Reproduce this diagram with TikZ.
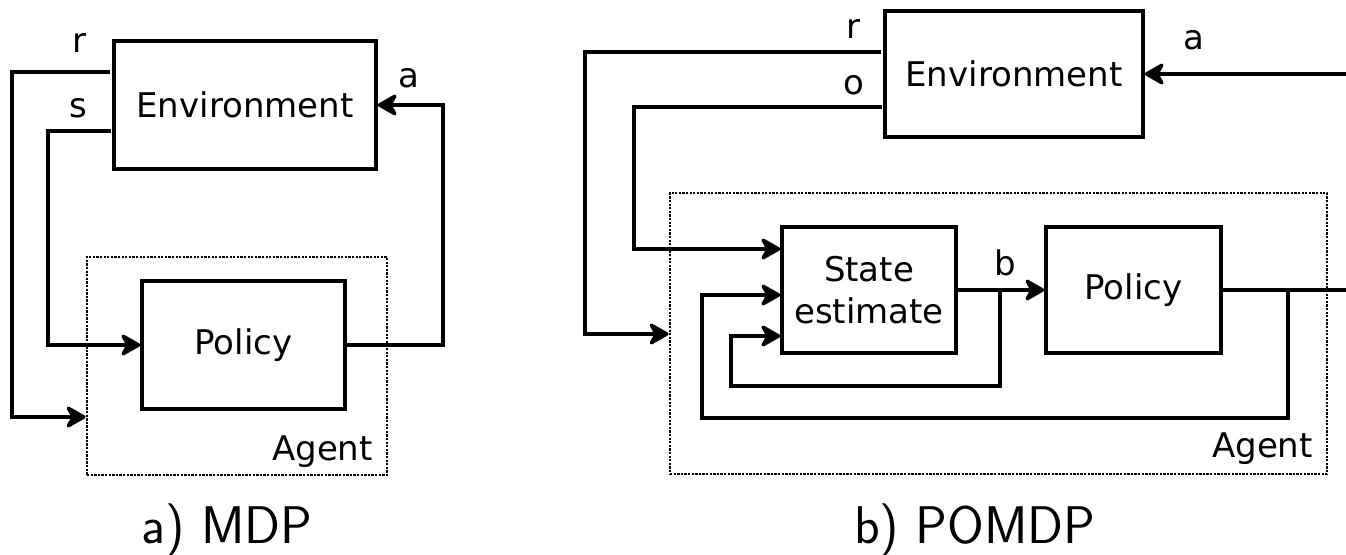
\documentclass[tikz,border=0pt]{standalone}
\usepackage{fontspec}
\newfontfamily\labelfont{DejaVu Sans}
\usetikzlibrary{arrows.meta}
\begin{document}
\begin{tikzpicture}[x=1pt,y=-1pt,
  >={Stealth[length=23pt,width=26pt,inset=7pt,round=false]},
  box/.style={draw, line width=3.4pt, rectangle, inner sep=0pt,
    font=\labelfont\fontsize{34}{42}\selectfont, align=center},
  agentbox/.style={draw, line width=2.9pt, dash pattern=on 2.3pt off 1.3pt,
    rectangle, inner sep=0pt},
  wire/.style={line width=3.4pt},
  flow/.style={wire, ->},
  lbl/.style={font=\labelfont\fontsize{34}{42}\selectfont, anchor=base, inner sep=0pt},
  caption/.style={font=\sffamily\fontsize{53}{60}\selectfont, anchor=base, inner sep=0pt}]
\useasboundingbox (0,0) rectangle (1346,554);

% ---------- a) MDP ----------
\node[box, minimum width=262pt, minimum height=128pt] (envL) at (245,105) {Environment};
\node[box, minimum width=203pt, minimum height=128pt] (polL) at (243.5,345) {Policy};
\node[agentbox, minimum width=300pt, minimum height=218pt] (agL) at (237,366) {};
\node[lbl, anchor=base east] (agLlbl) at (373,460) {Agent};

\coordinate (rL) at (110,72);
\coordinate (sL) at (111,131);
\draw[flow] (rL) -| (12,417) -- (agL.west |- 0,417);
\draw[flow] (sL) -| (48,345) -- (polL.west);
\draw[flow] (polL.east) -| (443,105) -- (envL.east);

\node[lbl] (rLlbl) at (79,52) {r};
\node[lbl] (sLlbl) at (78,117) {s};
\node[lbl] (aLlbl) at (409,87) {a};

\node[caption] (capL) at (227,543) {a) MDP};

% ---------- b) POMDP ----------
\node[box, minimum width=258pt, minimum height=126pt] (envR) at (1014,74) {Environment};
\node[box, minimum width=174pt, minimum height=126pt] (stR) at (869,290) {State\\estimate};
\node[box, minimum width=175pt, minimum height=126pt] (polR) at (1133.5,290) {Policy};
\node[agentbox, minimum width=657pt, minimum height=281pt] (agR) at (998.5,333.5) {};
\node[lbl, anchor=base east] (agRlbl) at (1313,457) {Agent};

\coordinate (rR) at (881,52);
\coordinate (oR) at (882,107);
\coordinate (bfork) at (1000,290);
\coordinate (afork) at (1288,290);
\coordinate (outR) at (1346,290);
\coordinate (aR) at (1346,74);

\draw[flow] (rR) -| (585,334) -- (agR.west |- 0,334);
\draw[flow] (oR) -| (634,249) -- (stR.west |- 0,249);
\draw[flow] (stR.east) -- (polR.west);
\draw[flow] (bfork) -- (1000,386) -| (731,336) -- (stR.west |- 0,336);
\draw[wire] (polR.east) -- (outR);
\draw[flow] (afork) -- (1288,418) -| (702,295) -- (stR.west |- 0,295);
\draw[flow] (aR) -- (envR.east);

\node[lbl] (rRlbl) at (853,38) {r};
\node[lbl] (oRlbl) at (854,94) {o};
\node[lbl] (aRlbl) at (1194,49) {a};
\node[lbl] (bRlbl) at (1005,275) {b};

\node[caption] (capR) at (975,543) {b) POMDP};
\end{tikzpicture}
\end{document}
